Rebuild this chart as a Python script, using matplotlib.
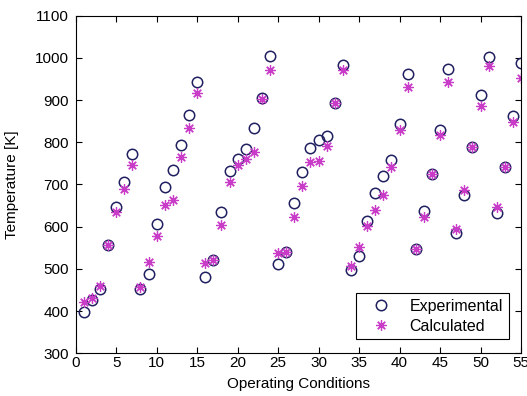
import numpy as np
import matplotlib.pyplot as plt

plt.rcParams['font.family'] = ['Liberation Sans', 'DejaVu Sans']

# Operating conditions 1..55
conditions = np.arange(1, 56)

experimental = [397, 427, 452, 557, 647, 705, 773,
                453, 487, 607, 694, 735, 794, 865, 942,
                482, 521, 634, 732, 760, 783, 835, 906, 1004,
                511, 541, 656, 729, 786, 805, 815, 894, 982,
                498, 531, 613, 680, 721, 759, 844, 962,
                547, 638, 725, 828, 974,
                585, 676, 790, 912, 1003,
                633, 741, 862, 987]

calculated = [422, 432, 460, 557, 636, 690, 746,
              458, 516, 579, 652, 664, 766, 833, 916,
              513, 521, 603, 705, 746, 761, 777, 902, 971,
              537, 541, 623, 696, 753, 755, 792, 894, 971,
              508, 553, 601, 639, 676, 742, 828, 930,
              547, 623, 725, 817, 942,
              594, 686, 790, 886, 981,
              647, 741, 848, 953]

fig = plt.figure(figsize=(5.27, 3.96), dpi=100)
ax = fig.add_axes([0.1436, 0.1078, 0.8450, 0.8526])

ax.plot(conditions, experimental, 'o', mfc='none', mec='#202060',
        mew=1.1, ms=7.5, label='Experimental')
ax.plot(conditions, calculated, marker=(8, 2, 0), ls='none', color='#c83cc8',
        mew=0.9, ms=7.5, label='Calculated')

ax.set_xlim(0, 55)
ax.set_ylim(300, 1100)
ax.set_xticks(np.arange(0, 56, 5))
ax.set_yticks(np.arange(300, 1101, 100))
ax.tick_params(direction='in', top=True, right=True, labelsize=11, length=4)
ax.tick_params(axis='x', pad=2)
ax.tick_params(axis='y', pad=5)
for s in ax.spines.values():
    s.set_linewidth(0.8)

ax.set_xlabel('Operating Conditions', fontsize=11, labelpad=5)
ax.set_ylabel('Temperature [K]', fontsize=11, labelpad=11)

leg = ax.legend(loc='lower right', bbox_to_anchor=(0.972, 0.042),
                borderaxespad=0, fontsize=11.5, fancybox=False, edgecolor='black',
                framealpha=1, handletextpad=0.6, borderpad=0.35,
                labelspacing=0.3, handlelength=2.4)
leg.get_frame().set_linewidth(0.8)

plt.savefig('out.png', dpi=100)
